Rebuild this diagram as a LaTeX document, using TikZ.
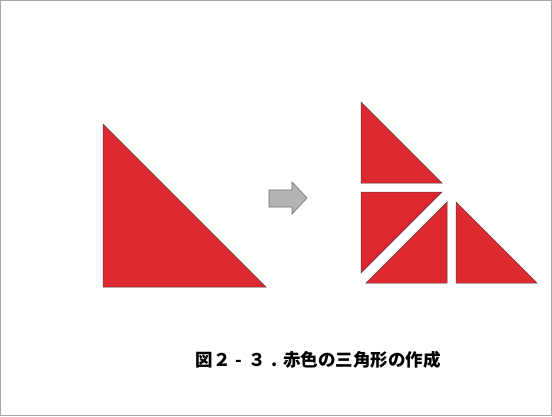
\documentclass[tikz,border=0pt]{standalone}
\usepackage{fontspec}
\newfontfamily\jpfont{Noto Sans CJK JP}
\definecolor{tri}{RGB}{222,41,49}
\definecolor{triedge}{RGB}{90,60,60}
\definecolor{arrfill}{RGB}{180,180,180}
\definecolor{arredge}{RGB}{110,110,110}
\newcommand{\fwdash}{\hbox to 1em{\hss-\hss}}
\newcommand{\fwdot}{\hbox to 1em{\hss.\hss}}
\begin{document}
\begin{tikzpicture}[x=1pt,y=-1pt,
  piece/.style={fill=tri,draw=triedge,line width=0.5pt,line join=miter},
  arrowshape/.style={fill=arrfill,draw=arredge,line width=0.6pt},
  caption/.style={font=\jpfont\bfseries\fontsize{17.5}{20}\selectfont,inner sep=0pt}]
\useasboundingbox (0,0) rectangle (552,416);
\draw[draw=gray!70,line width=0.8pt] (0.5,0.5) rectangle (551.5,415.5);
% big triangle
\draw[piece] (103,124) -- (103,287) -- (266,287) -- cycle;
% arrow
\draw[arrowshape] (269,190) -- (292,190) -- (292,182) -- (307,198) -- (292,214) -- (292,207) -- (269,207) -- cycle;
% pieces
\draw[piece] (361,102) -- (361,183) -- (442,183) -- cycle;
\draw[piece] (361,192) -- (442,192) -- (361,273) -- cycle;
\draw[piece] (447,202) -- (447,283) -- (366,283) -- cycle;
\draw[piece] (456,202) -- (456,283) -- (537,283) -- cycle;
\node[caption] (cap) at (318,360) {図２\fwdash ３\fwdot 赤色の三角形の作成};
\end{tikzpicture}
\end{document}
